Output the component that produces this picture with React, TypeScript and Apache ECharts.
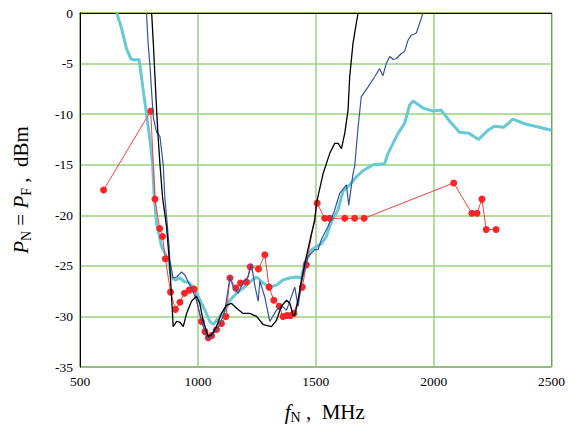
import React, { useEffect, useRef } from "react";
import * as echarts from "echarts";

const xTicks = [500, 1000, 1500, 2000, 2500];
const yTicks = [-35, -30, -25, -20, -15, -10, -5, 0];

const cyanData: [number, number][] = [
  [656, 0], [676, -1.5], [698, -3.6], [715, -4.5], [730, -4.65], [750, -4.6], [756, -5.5], [768, -7.6],
  [782, -10.0], [797, -12.6], [808, -15.0], [815, -18.2], [825, -20.8], [846, -23.1], [874, -24.4],
  [888, -26.1], [903, -26.4], [924, -26.2], [945, -26.6], [959, -26.6], [980, -27.1], [1001, -28.0],
  [1030, -29.4], [1051, -30.5], [1065, -30.8], [1086, -30.2], [1114, -29.4], [1136, -28.4],
  [1164, -27.7], [1192, -27.2], [1220, -26.6], [1249, -26.1], [1277, -26.7], [1305, -27.1],
  [1333, -26.9], [1361, -26.4], [1390, -26.2], [1418, -26.1], [1439, -26.2], [1453, -24.7],
  [1467, -24.1], [1482, -23.4], [1503, -23.1], [1524, -22.8], [1545, -22.1], [1559, -21.1],
  [1573, -20.3], [1594, -19.5], [1616, -17.6], [1644, -17.0], [1672, -16.2], [1700, -15.6],
  [1743, -15.0], [1792, -14.9], [1806, -13.9], [1849, -11.9], [1877, -10.9], [1898, -9.1],
  [1913, -8.7], [1955, -9.4], [1997, -9.7], [2032, -9.6], [2068, -10.7], [2110, -11.8],
  [2150, -11.9], [2191, -12.5], [2230, -11.6], [2258, -11.2], [2297, -11.3], [2336, -10.5],
  [2393, -11.0], [2449, -11.3], [2500, -11.6],
];

const blueData: [number, number][] = [
  [782, 0], [789, -3.0], [797, -5.3], [804, -7.9], [811, -10.3], [825, -11.8], [839, -12.2],
  [853, -15.0], [860, -18.3], [867, -20.1], [878, -23.1], [881, -24.4], [895, -26.2], [910, -26.1],
  [931, -25.6], [945, -25.9], [959, -26.6], [973, -27.2], [994, -28.4], [1015, -30.4], [1037, -32.0],
  [1051, -32.2], [1072, -31.5], [1093, -30.8], [1114, -29.5], [1136, -26.1], [1150, -27.1],
  [1171, -27.7], [1192, -26.6], [1213, -26.1], [1227, -24.8], [1242, -27.0], [1256, -28.5],
  [1263, -26.5], [1284, -28.1], [1305, -30.5], [1333, -29.4], [1354, -28.9], [1376, -29.4],
  [1411, -27.1], [1425, -29.0], [1439, -26.7], [1467, -24.1], [1496, -23.4], [1510, -23.4],
  [1524, -22.4], [1552, -21.1], [1580, -19.5], [1602, -17.8], [1630, -17.0], [1640, -19.0],
  [1658, -15.9], [1665, -15.2], [1680, -11.2], [1693, -8.3], [1722, -7.3], [1750, -6.3],
  [1771, -5.5], [1785, -6.2], [1799, -5.0], [1814, -4.3], [1828, -4.6], [1842, -4.5],
  [1863, -4.0], [1877, -3.8], [1891, -2.7], [1905, -2.2], [1926, -2.0], [1941, -1.0], [1955, 0],
];

const blackData: [number, number][] = [
  [804, 0], [811, -3.0], [818, -6.3], [825, -9.6], [832, -12.5], [839, -14.9], [850, -18.2],
  [867, -21.1], [874, -23.1], [881, -25.1], [893, -30.0], [895, -31.0], [910, -30.5], [925, -30.6],
  [938, -31.0], [952, -29.7], [973, -28.5], [994, -28.0], [1008, -28.7], [1022, -30.4],
  [1044, -32.0], [1058, -31.8], [1079, -31.0], [1100, -29.7], [1121, -28.9], [1142, -28.7],
  [1164, -29.2], [1192, -29.7], [1220, -29.7], [1249, -30.0], [1277, -30.8], [1312, -31.0],
  [1333, -30.4], [1354, -29.0], [1376, -28.4], [1390, -28.7], [1404, -29.9], [1411, -29.9],
  [1425, -28.4], [1439, -26.4], [1460, -24.1], [1482, -21.8], [1496, -20.5], [1503, -18.8],
  [1531, -15.9], [1559, -13.9], [1580, -12.9], [1595, -12.9], [1609, -13.4], [1623, -11.9],
  [1637, -9.6], [1644, -6.3], [1658, -3.0], [1672, -1.0], [1680, 0],
];

const redData: [number, number][] = [
  [600, -17.5], [800, -9.7], [818, -18.4], [838, -21.3], [850, -22.1], [862, -24.3], [884, -27.6],
  [905, -29.3], [924, -28.6], [943, -27.7], [963, -27.4], [984, -27.3], [1015, -30.5], [1030, -31.5],
  [1044, -32.1], [1058, -31.9], [1079, -31.3], [1100, -30.7], [1119, -30.0], [1136, -26.2],
  [1161, -27.2], [1181, -26.7], [1206, -26.6], [1222, -25.1], [1257, -25.3], [1284, -23.9],
  [1302, -27.1], [1322, -28.4], [1345, -29.0], [1361, -30.0], [1378, -29.9], [1393, -29.9],
  [1407, -29.7], [1443, -27.1], [1460, -24.9], [1506, -18.8], [1538, -20.3], [1559, -20.3],
  [1623, -20.3], [1665, -20.3], [1705, -20.3], [2085, -16.8], [2162, -19.8], [2184, -19.8],
  [2205, -18.4], [2223, -21.4], [2265, -21.4],
];

const FONT = "Liberation Serif";

export default function App() {
  const ref = useRef<HTMLDivElement>(null);
  useEffect(() => {
    if (!ref.current) return;
    const chart = echarts.init(ref.current, undefined, { renderer: "svg" });
    const green = "#99d27a";
    const rich = {
      i: { fontFamily: FONT, fontStyle: "italic", fontSize: 21, color: "#000", lineHeight: 24 },
      s: { fontFamily: FONT, fontSize: 14, color: "#000", lineHeight: 14, verticalAlign: "bottom" },
      n: { fontFamily: FONT, fontSize: 21, color: "#000", lineHeight: 24 },
    };
    chart.setOption({
      animation: false,
      backgroundColor: "#fff",
      grid: {
        left: 80,
        right: 16,
        top: 13,
        bottom: 63,
        show: true,
        borderColor: "#000",
        borderWidth: 1,
        backgroundColor: "transparent",
      },
      xAxis: {
        type: "value",
        min: xTicks[0],
        max: xTicks[xTicks.length - 1],
        interval: 500,
        axisLine: { show: true, lineStyle: { color: "#000", width: 1 } },
        axisTick: { show: false },
        splitLine: { show: true, lineStyle: { color: green, width: 1.5 } },
        axisLabel: {
          color: "#000",
          fontFamily: FONT,
          fontSize: 13.5,
          margin: 7,
          showMinLabel: true,
          showMaxLabel: true,
          formatter: (v: number) => String(v),
        },
        name: "{i|f}{s|N}{n| ,  MHz}",
        nameLocation: "middle",
        nameGap: 33,
        nameTextStyle: { padding: [0, 0, 0, 18], rich },
      },
      yAxis: {
        type: "value",
        min: yTicks[0],
        max: yTicks[yTicks.length - 1],
        interval: 5,
        axisLine: { show: true, lineStyle: { color: "#000", width: 1 } },
        axisTick: { show: false },
        splitLine: { show: true, lineStyle: { color: green, width: 1.5 } },
        axisLabel: {
          color: "#000",
          fontFamily: FONT,
          fontSize: 13.5,
          margin: 7,
          showMinLabel: true,
          showMaxLabel: true,
          formatter: (v: number) => String(v),
        },
        name: "{i|P}{s|N}{n| = }{i|P}{s|F}{n| ,  dBm}",
        nameLocation: "middle",
        nameRotate: 90,
        nameGap: 47,
        nameTextStyle: { rich },
      },
      series: [
        {
          type: "line",
          data: cyanData,
          symbol: "none",
          lineStyle: { color: "#66c9d3", width: 3 },
          z: 2,
        },
        {
          type: "line",
          data: redData,
          symbol: "circle",
          symbolSize: 7,
          showSymbol: true,
          itemStyle: { color: "#ff2424" },
          lineStyle: { color: "#ff3c3c", width: 1 },
          z: 3,
        },
        {
          type: "line",
          data: blueData,
          symbol: "none",
          lineStyle: { color: "#3352aa", width: 1.2 },
          z: 4,
        },
        {
          type: "line",
          data: blackData,
          symbol: "none",
          lineStyle: { color: "#000", width: 1.3 },
          z: 5,
        },
      ],
    });
    return () => chart.dispose();
  }, []);
  return <div ref={ref} style={{ width: 568, height: 430, position: "absolute", left: 0, top: 0 }} />;
}
